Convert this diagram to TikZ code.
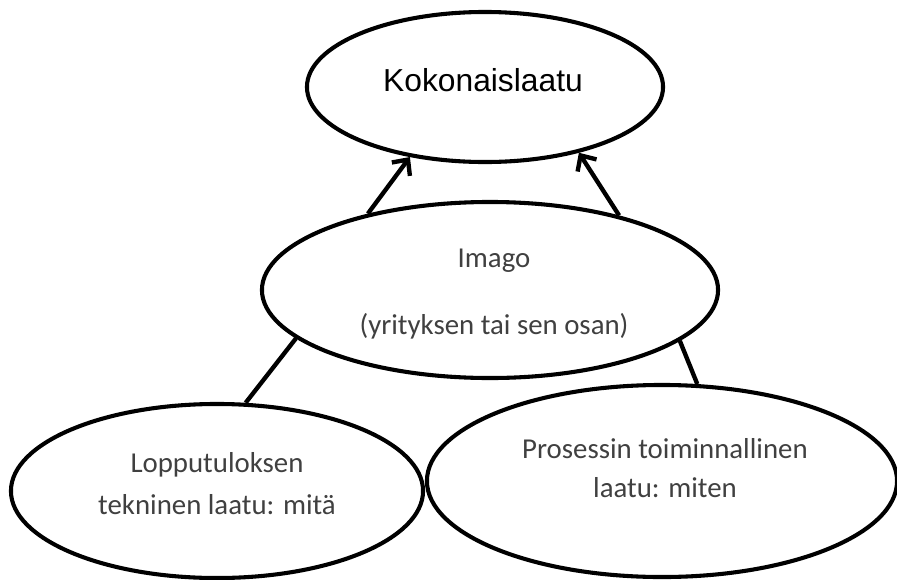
\documentclass[tikz,border=0pt]{standalone}
\usepackage{fontspec}
\setmainfont{Carlito}
\newfontfamily\arialfont{Liberation Sans}
\usetikzlibrary{shapes.geometric,arrows.meta}
\tikzset{every picture/.append style={x=0.025cm,y=-0.025cm}}
\tikzset{bubble/.style={ellipse, draw, line width=2.9pt, inner sep=0pt}}
\tikzset{bubbletext/.style={text=black!75, font=\fontsize{20.5}{25}\selectfont, align=center}}
\tikzset{link/.style={line width=3.1pt}}
\tikzset{flow/.style={link, -{Straight Barb[length=8.5pt,width=16pt]}}}

\begin{document}
\begin{tikzpicture}
\useasboundingbox (0,0) rectangle (897,580);

\node (total) at (485,87)[bubble, minimum width=8.9cm, minimum height=3.75cm]{};
\node (totaltext) at (483,80)[font=\arialfont\fontsize{22.6}{27}\selectfont]{Kokonaislaatu};

\node (imago) at (490,290)[bubble, minimum width=11.4cm, minimum height=4.4cm]{};
\node (imagotext) at (494,294)[bubbletext]{Imago\\[23pt](yrityksen tai sen osan)};

%the two parts below
\node (result) at (217,491)[bubble, minimum width=10.3cm, minimum height=4.35cm]{};
\node (resulttext) at (217,484)[bubbletext]{Lopputuloksen\\[5pt]tekninen laatu: mitä};
\node (process) at (662,481)[bubble, minimum width=11.75cm, minimum height=4.8cm]{};
\node (processtext) at (665,468)[bubbletext]{Prosessin toiminnallinen\\[3pt]laatu: miten};

\draw[flow] (imago.148)--(total.223);
\draw[flow] (imago.30)--(total.-35);
\draw[link] (result.72)--(imago.194);
\draw[link] (process.70)--(imago.-15);
\end{tikzpicture}
\end{document}
